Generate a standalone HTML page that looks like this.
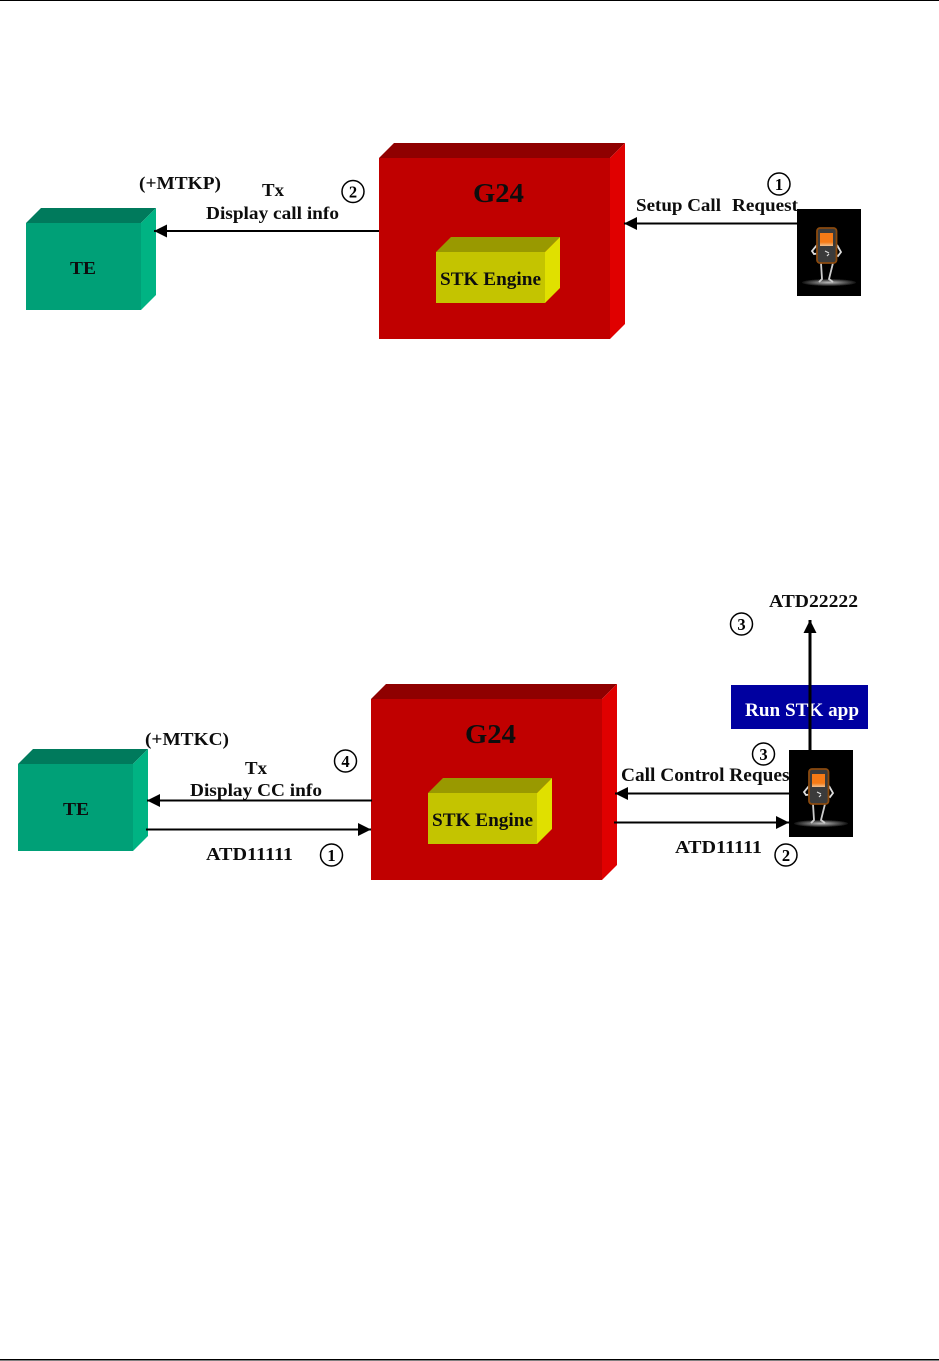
<!DOCTYPE html>
<html><head><meta charset="utf-8"><style>
html,body{margin:0;padding:0;background:#fff}
svg{display:block}
text{font-family:"Liberation Serif",serif;font-weight:bold;fill:#111}
.c{font-weight:bold;font-size:16.500px;text-anchor:middle;fill:#000}
.l{stroke:#000;stroke-width:2;fill:none}
</style></head><body>
<svg width="939" height="1361" viewBox="0 0 939 1361" xmlns="http://www.w3.org/2000/svg">
<defs>
<filter id="soft" x="0" y="0" width="100%" height="100%"><feGaussianBlur stdDeviation="0.35"/></filter>
<radialGradient id="floor"><stop offset="0" stop-color="#bbb"/><stop offset="1" stop-color="#111"/></radialGradient>
<linearGradient id="scr" x1="0" y1="0" x2="0" y2="1"><stop offset="0" stop-color="#f57a15"/><stop offset="0.7" stop-color="#f57a15"/><stop offset="1" stop-color="#f0c090"/></linearGradient>
<g id="phone">
<rect width="64" height="87" fill="#000"/>
<ellipse cx="32" cy="73.500" rx="27" ry="3.500" fill="url(#floor)"/>
<path d="M24 54L25 70L22 73M36 54L32 70L36 73" stroke="#ccc" stroke-width="1.800" fill="none"/>
<path d="M20 36L15 42L17 45L24 44M40 36L44 43L41 47L36 44" stroke="#ddd" stroke-width="1.800" fill="none"/>
<rect x="20" y="19" width="19.500" height="35" rx="3" fill="#3a3a3a" stroke="#8a4a10" stroke-width="1.800"/>
<rect x="23" y="24" width="13" height="13" fill="url(#scr)"/>
<path d="M28 42L32 44M30 47L32 45" stroke="#ddd" stroke-width="1.200" fill="none"/>
</g>
<marker id="a" markerWidth="14" markerHeight="14" refX="13" refY="6.500" orient="auto" markerUnits="userSpaceOnUse"><path d="M0 0L13 6.500L0 13Z" fill="#000"/></marker>
</defs>
<rect x="0" y="0" width="939" height="1" fill="#000"/>
<rect x="0" y="1359" width="939" height="1.500" fill="#000"/>
<g filter="url(#soft)">

<!-- Top diagram -->
<polygon points="26,223 41,208 156,208 141,223" fill="#007a5c"/>
<polygon points="141,223 156,208 156,295 141,310" fill="#00b383"/>
<rect x="26" y="223" width="115" height="87" fill="#00a077"/>
<polygon points="379,158 394,143 625,143 610,158" fill="#8f0000"/>
<polygon points="610,158 625,143 625,324 610,339" fill="#e00000"/>
<rect x="379" y="158" width="231" height="181" fill="#c00000"/>
<polygon points="436,252 451,237 560,237 545,252" fill="#999900"/>
<polygon points="545,252 560,237 560,288 545,303" fill="#e0e000"/>
<rect x="436" y="252" width="109" height="51" fill="#c4c400"/>
<use href="#phone" x="797" y="209"/>
<line class="l" x1="379" y1="231" x2="154" y2="231" marker-end="url(#a)"/>
<line class="l" x1="797" y1="223.500" x2="624" y2="223.500" marker-end="url(#a)"/>
<text x="139" y="189" font-size="18" textLength="82" lengthAdjust="spacingAndGlyphs">(+MTKP)</text>
<text x="262" y="196" font-size="18" textLength="22" lengthAdjust="spacingAndGlyphs">Tx</text>
<text x="206" y="219" font-size="18" textLength="133" lengthAdjust="spacingAndGlyphs">Display call info</text>
<text x="636" y="211" font-size="18" textLength="85" lengthAdjust="spacingAndGlyphs">Setup Call</text>
<text x="732" y="211" font-size="18" textLength="66" lengthAdjust="spacingAndGlyphs">Request</text>
<text x="70" y="274" font-size="18" textLength="26" lengthAdjust="spacingAndGlyphs">TE</text>
<text x="473" y="202" font-size="27" textLength="51" lengthAdjust="spacingAndGlyphs">G24</text>
<text x="440" y="285" font-size="19" textLength="101" lengthAdjust="spacingAndGlyphs">STK Engine</text>
<circle cx="353" cy="191.500" r="11" fill="#fff" stroke="#000" stroke-width="1.500"/>
<text class="c" x="353" y="197.500">2</text>
<circle cx="779" cy="184" r="11" fill="#fff" stroke="#000" stroke-width="1.500"/>
<text class="c" x="779" y="190">1</text>

<!-- Bottom diagram -->
<polygon points="18,764 33,749 148,749 133,764" fill="#007a5c"/>
<polygon points="133,764 148,749 148,836 133,851" fill="#00b383"/>
<rect x="18" y="764" width="115" height="87" fill="#00a077"/>
<polygon points="371,699 386,684 617,684 602,699" fill="#8f0000"/>
<polygon points="602,699 617,684 617,865 602,880" fill="#e00000"/>
<rect x="371" y="699" width="231" height="181" fill="#c00000"/>
<polygon points="428,793 443,778 552,778 537,793" fill="#999900"/>
<polygon points="537,793 552,778 552,829 537,844" fill="#e0e000"/>
<rect x="428" y="793" width="109" height="51" fill="#c4c400"/>
<rect x="731" y="685" width="137" height="44" fill="#0000a0"/>
<text x="745" y="716" font-size="18.500" textLength="114" lengthAdjust="spacingAndGlyphs" style="fill:#fff">Run STK app</text>
<line x1="810" y1="750" x2="810" y2="620" stroke="#000" stroke-width="3" marker-end="url(#a)"/>
<text x="621" y="781" font-size="18.500" textLength="175" lengthAdjust="spacingAndGlyphs">Call Control Request</text>
<use href="#phone" x="789" y="750"/>
<line class="l" x1="372" y1="800.500" x2="147" y2="800.500" marker-end="url(#a)"/>
<line class="l" x1="146" y1="829.500" x2="371" y2="829.500" marker-end="url(#a)"/>
<line class="l" x1="789" y1="793.500" x2="615" y2="793.500" marker-end="url(#a)"/>
<line class="l" x1="614" y1="822.500" x2="789" y2="822.500" marker-end="url(#a)"/>
<text x="145" y="745" font-size="18" textLength="84" lengthAdjust="spacingAndGlyphs">(+MTKC)</text>
<text x="245" y="774" font-size="18" textLength="22" lengthAdjust="spacingAndGlyphs">Tx</text>
<text x="190" y="796" font-size="18" textLength="132" lengthAdjust="spacingAndGlyphs">Display CC info</text>
<text x="206" y="860" font-size="18" textLength="87" lengthAdjust="spacingAndGlyphs">ATD11111</text>
<text x="675" y="853" font-size="18" textLength="87" lengthAdjust="spacingAndGlyphs">ATD11111</text>
<text x="769" y="607" font-size="18" textLength="89" lengthAdjust="spacingAndGlyphs">ATD22222</text>
<text x="63" y="815" font-size="18" textLength="26" lengthAdjust="spacingAndGlyphs">TE</text>
<text x="465" y="743" font-size="27" textLength="51" lengthAdjust="spacingAndGlyphs">G24</text>
<text x="432" y="826" font-size="19" textLength="101" lengthAdjust="spacingAndGlyphs">STK Engine</text>
<circle cx="345.500" cy="761" r="11" fill="#fff" stroke="#000" stroke-width="1.500"/>
<text class="c" x="345.500" y="767">4</text>
<circle cx="331.500" cy="855" r="11" fill="#fff" stroke="#000" stroke-width="1.500"/>
<text class="c" x="331.500" y="861">1</text>
<circle cx="786" cy="855" r="11" fill="#fff" stroke="#000" stroke-width="1.500"/>
<text class="c" x="786" y="861">2</text>
<circle cx="741.500" cy="624" r="11" fill="#fff" stroke="#000" stroke-width="1.500"/>
<text class="c" x="741.500" y="630">3</text>
<circle cx="763.500" cy="754" r="11" fill="#fff" stroke="#000" stroke-width="1.500"/>
<text class="c" x="763.500" y="760">3</text>
</g>
</svg>
</body></html>
